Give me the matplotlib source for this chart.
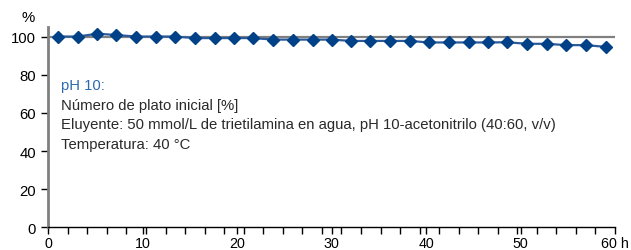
import matplotlib
matplotlib.use('Agg')
import matplotlib.pyplot as plt
import numpy as np

plt.rcParams['font.family'] = ['Liberation Sans', 'DejaVu Sans']

# hours (midpoints of the sampling intervals) and relative plate number [%]
hours = [1.0, 3.1, 5.2, 7.2, 9.3, 11.4, 13.4, 15.5, 17.6, 19.7, 21.7, 23.8, 25.9, 28.0, 30.0,
         32.1, 34.1, 36.2, 38.3, 40.3, 42.4, 44.5, 46.6, 48.6, 50.7, 52.8, 54.8, 56.9, 59.0]
plate_pct = [100, 100, 101.5, 100.8, 100, 100, 100, 99.2, 99.2, 99.2, 99.2, 98.4, 98.4, 98.4, 98.4,
             97.7, 97.7, 97.7, 97.7, 96.9, 96.9, 96.9, 96.9, 97.0, 96.2, 96.2, 95.5, 95.5, 94.6]

x_labels = ['0', '10', '20', '30', '40', '50', '60 h']
y_ticks = [0, 20, 40, 60, 80, 100]

note_title = 'pH 10:'
note_lines = ['Número de plato inicial [%]',
              'Eluyente: 50 mmol/L de trietilamina en agua, pH 10-acetonitrilo (40:60, v/v)',
              'Temperatura: 40 °C']

blue = '#004188'

fig = plt.figure(figsize=(6.31, 2.51), dpi=100)
ax = fig.add_axes([0.0766, 0.0904, 0.8980, 0.798])

ax.axhline(100, color='#808080', lw=1.6, zorder=1)
ax.plot(hours, plate_pct, color='#2a5a9a', lw=1.6, marker='D', markersize=6.5,
        markerfacecolor=blue, markeredgecolor=blue, zorder=3, clip_on=False)

ax.set_xlim(0, 60)
ax.set_ylim(0, 105)

for s in ['top', 'right']:
    ax.spines[s].set_visible(False)
ax.spines['left'].set_color('#808080')
ax.spines['left'].set_linewidth(2)
ax.spines['bottom'].set_color('#000000')
ax.spines['bottom'].set_linewidth(1)

# category-like ticks every 60/29 h, labels every 10 h
ax.set_xticks(np.linspace(0, 60, 30), minor=True)
ax.set_xticks(np.arange(0, 61, 10))
ax.set_xticklabels(x_labels)
ax.tick_params(axis='x', which='both', direction='out', length=5, width=1, color='black',
               labelsize=10.3, pad=1.5)
ax.set_yticks(y_ticks)
ax.tick_params(axis='y', direction='out', length=5, width=1, color='black',
               labelsize=10.7, pad=4)

fig.text(28 / 631, 1 - 18 / 251, '%', ha='center', va='center', fontsize=10.7)

ax.text(0.023, 0.71, note_title, transform=ax.transAxes, color='#2e6ab0',
        fontsize=10.7, va='center', ha='left')
for i, line in enumerate(note_lines):
    ax.text(0.023, 0.71 - (i + 1) * 0.098, line, transform=ax.transAxes,
            color='#2a2a2a', fontsize=10.7, va='center', ha='left')

fig.savefig('out.png', dpi=100)
